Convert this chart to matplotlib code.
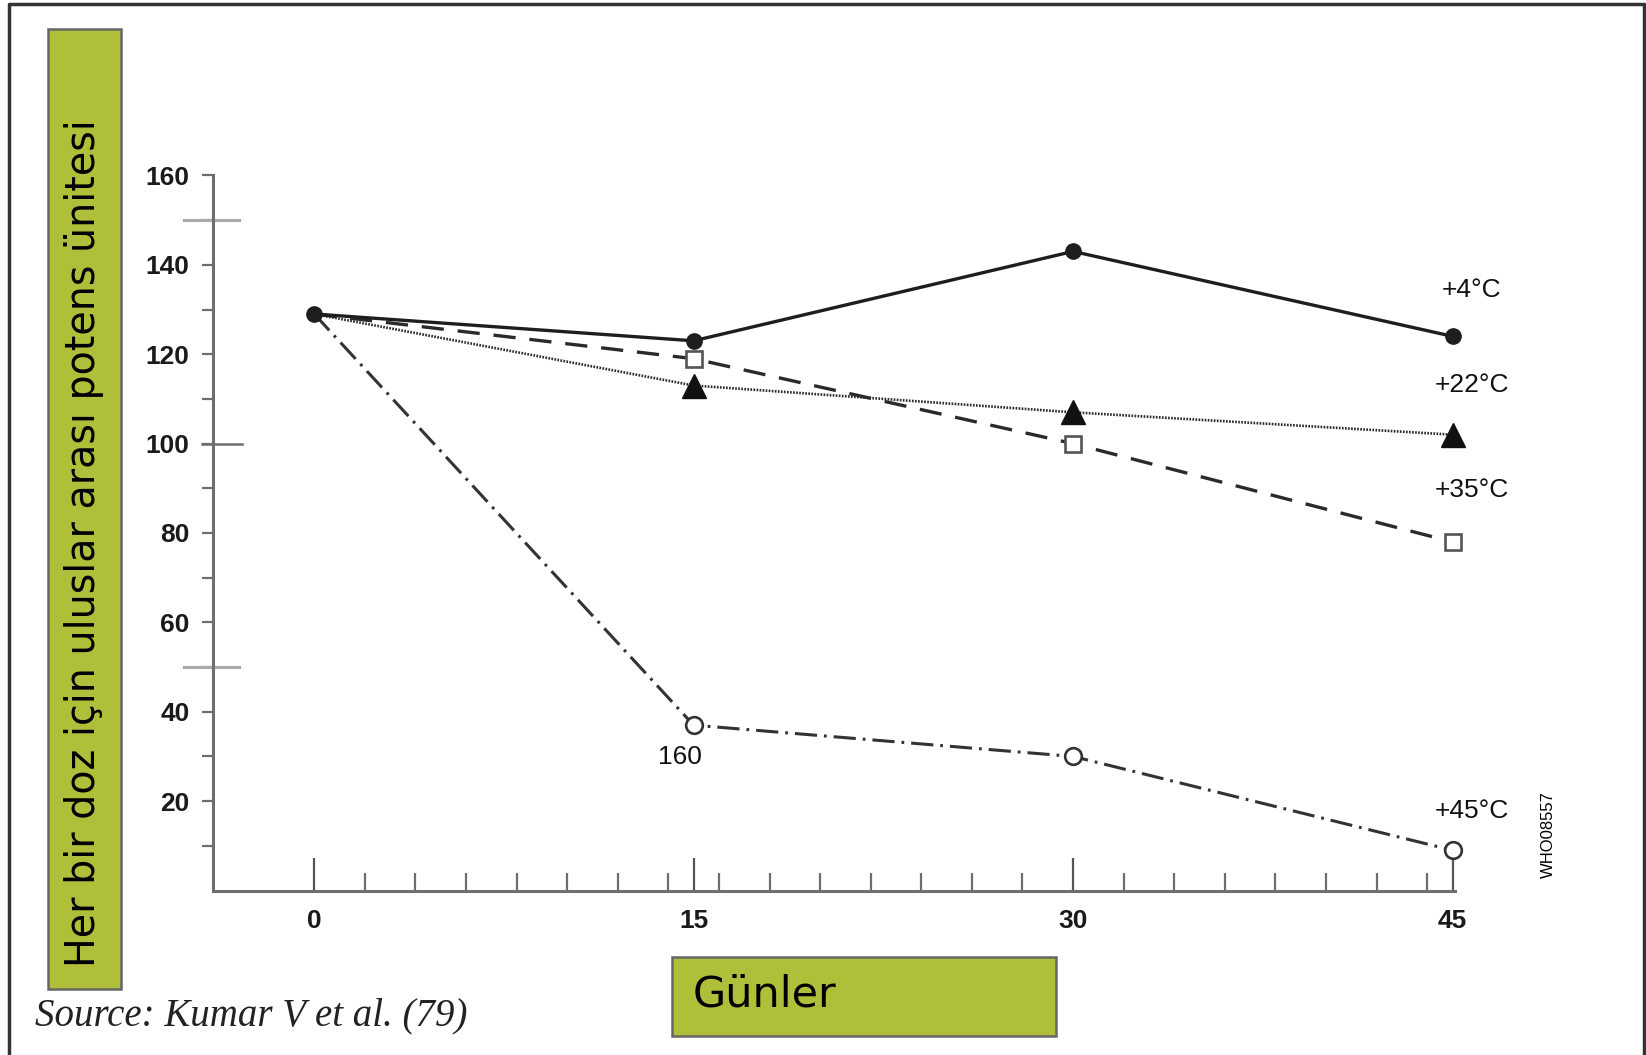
import matplotlib.pyplot as plt
import matplotlib.transforms as mtransforms
from matplotlib.patches import Rectangle
from matplotlib.lines import Line2D

plt.rcParams['lines.scale_dashes'] = False
plt.rcParams['font.family'] = ['Liberation Sans', 'DejaVu Sans']

# values
days = [0, 15, 30, 45]
temp_labels = ['+4°C', '+22°C', '+35°C', '+45°C']
potency_4c = [129, 123, 143, 124]
potency_22c = [129, 113, 107, 102]
potency_35c = [129, 119, 100, 78]
potency_45c = [129, 37, 30, 9]
y_ticks = [20, 40, 60, 80, 100, 120, 140, 160]
y_minor = [10, 30, 50, 70, 90, 110, 130, 150]
x_ticks = [0, 15, 30, 45]
x_minor = [d for d in range(2, 45, 2)]
label_pos = [(45.76, 134.4), (45.76, 113.1), (45.76, 89.6), (45.76, 17.8)]

fig = plt.figure(figsize=(16.46, 10.55), dpi=100)
ax = fig.add_axes([0.1294, 0.1559, 0.7546, 0.6778])

ax.plot(days, potency_22c, color='#2a2a2a', lw=1.9, ls=(0, (1.2, 1.0)),
        marker='^', ms=17, mfc='#111111', mec='#111111', markevery=[1, 2, 3],
        zorder=3, clip_on=False)
ax.plot(days, potency_35c, color='#2a2a2a', lw=2.4, ls=(0, (16, 10)),
        marker='s', ms=12, mfc='white', mec='#555555', mew=1.9, markevery=[1, 2, 3],
        zorder=3, clip_on=False)
ax.plot(days, potency_45c, color='#333333', lw=2.2, ls=(0, (16, 5, 2, 5)),
        marker='o', ms=12, mfc='white', mec='#333333', mew=1.9, markevery=[1, 2, 3],
        zorder=3, clip_on=False)
ax.plot(days, potency_4c, color='#1e1e1e', lw=2.4, marker='o', ms=11,
        mfc='#1e1e1e', mec='#1e1e1e', zorder=4, clip_on=False)

for lab, (tx, ty) in zip(temp_labels, label_pos):
    ax.text(tx, ty, lab, ha='center', va='center', fontsize=19, color='#111111')
ax.text(14.45, 29.9, '160', ha='center', va='center', fontsize=19, color='#111111')

ax.set_xlim(-4.0, 45.1)
ax.set_ylim(0, 160)
for s in ['top', 'right']:
    ax.spines[s].set_visible(False)
for s in ['left', 'bottom']:
    ax.spines[s].set_color('#6e6e6e')
    ax.spines[s].set_linewidth(2.2)

ax.set_yticks(y_ticks)
ax.set_yticks(y_minor, minor=True)
ax.set_yticklabels([str(v) for v in y_ticks], fontsize=19, fontweight='bold', color='#1a1a1a')
ax.tick_params(axis='y', which='both', direction='out', length=8, width=1.6,
               color='#6e6e6e', pad=9)

ax.set_xticks(x_ticks)
ax.set_xticks(x_minor, minor=True)
ax.set_xticklabels([str(v) for v in x_ticks], fontsize=19, fontweight='bold', color='#1a1a1a')
ax.tick_params(axis='x', which='major', direction='in', length=24, width=1.6,
               color='#555555', pad=13)
ax.tick_params(axis='x', which='minor', direction='in', length=13, width=1.6,
               color='#6e6e6e')

# long ticks crossing the y axis
trans = mtransforms.blended_transform_factory(ax.transAxes, ax.transData)
ax.plot([-0.009, 0.023], [100, 100], transform=trans, color='#6e6e6e', lw=1.8, clip_on=False)
for v in [150, 50]:
    ax.plot([-0.023, 0.021], [v, v], transform=trans, color='#aaaaaa', lw=2.2, clip_on=False)

fig.text(0.9405, 0.2085, 'WHO08557', rotation=90, fontsize=12, ha='center', va='center')

# green label boxes
fig.add_artist(Rectangle((0.0292, 0.0626), 0.0443, 0.91, transform=fig.transFigure,
                         facecolor='#afbf3a', edgecolor='#666666', lw=1.8))
fig.text(0.0513, 0.0834, 'Her bir doz için uluslar arası potens ünitesi', rotation=90,
         ha='center', va='bottom', fontsize=28.5, family='DejaVu Sans', color='black')
fig.add_artist(Rectangle((0.4083, 0.018), 0.2333, 0.0749, transform=fig.transFigure,
                         facecolor='#afbf3a', edgecolor='#666666', lw=1.8))
fig.text(0.421, 0.0578, 'Günler', ha='left', va='center', fontsize=31,
         family='DejaVu Sans', color='black')

fig.text(0.0213, 0.037, 'Source: Kumar V et al. (79)', ha='left', va='center',
         fontsize=28, family='Liberation Serif', style='italic', color='#222222')

# outer frame
fx = [9 / 1646, 9 / 1646, 1644 / 1646, 1644 / 1646]
fy = [0.0, 1 - 4 / 1055, 1 - 4 / 1055, 0.0]
fig.add_artist(Line2D(fx, fy, transform=fig.transFigure, color='#333333', lw=2.5))

fig.savefig('out.png', dpi=100)
